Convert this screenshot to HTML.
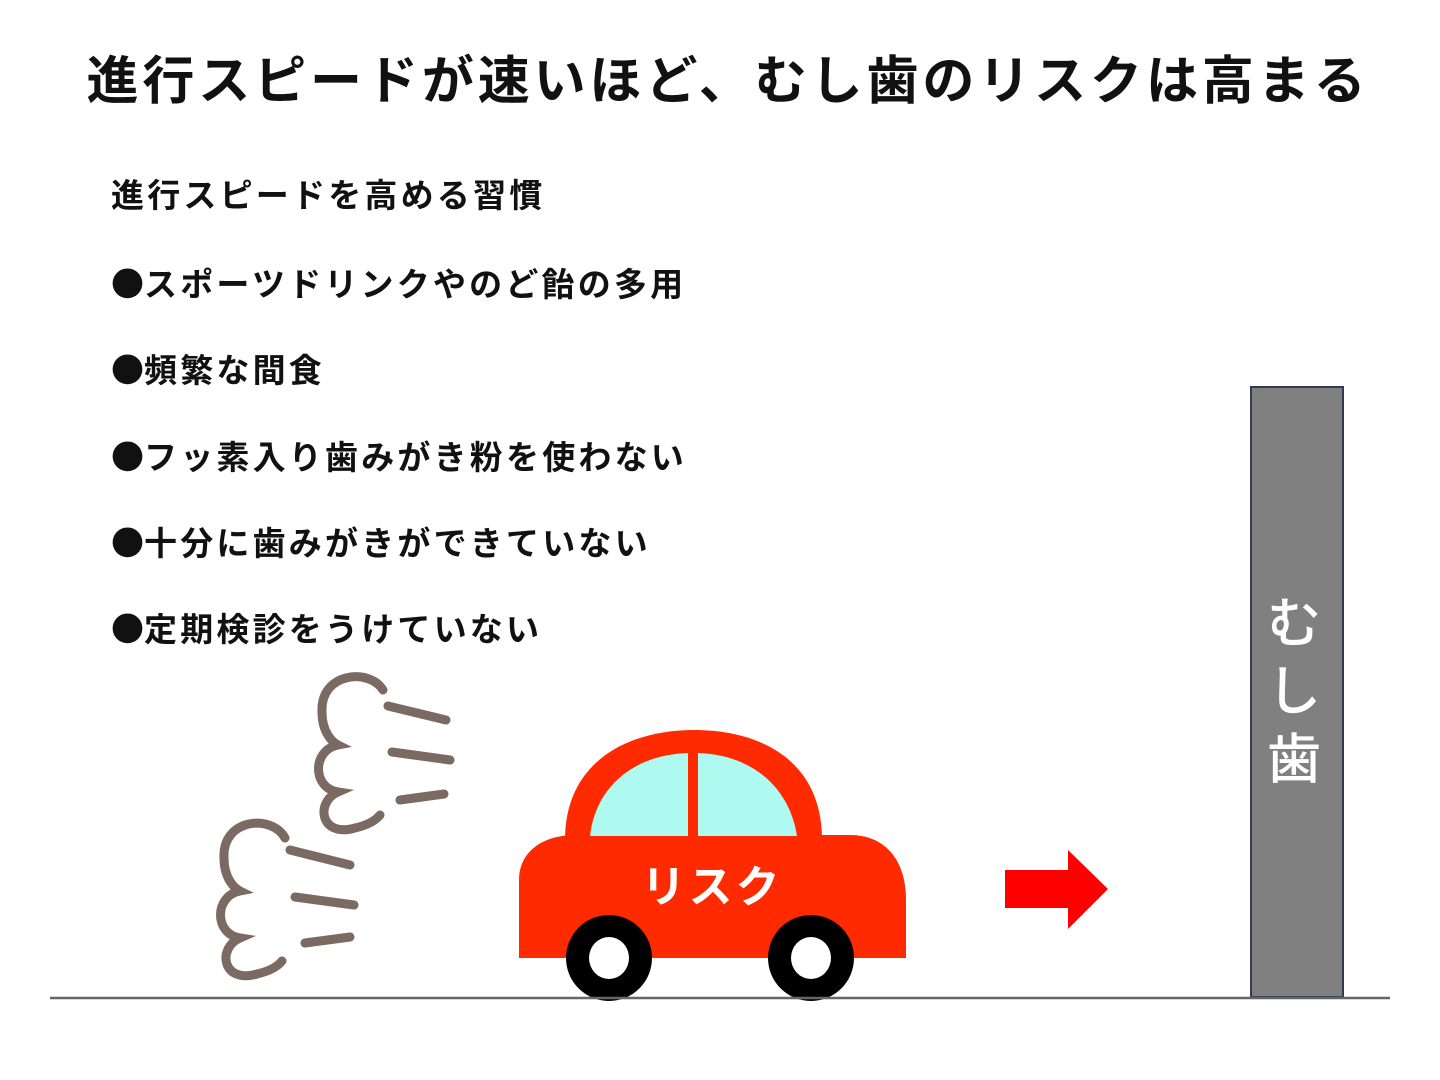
<!DOCTYPE html>
<html><head><meta charset="utf-8"><style>
html,body{margin:0;padding:0;background:#fff}
body{width:1440px;height:1080px;position:relative;overflow:hidden;font-family:"Liberation Sans","Noto Sans CJK JP",sans-serif}
.title{position:absolute;left:8px;width:1440px;top:48px;text-align:center;font-size:52px;font-weight:bold;letter-spacing:3.9px;line-height:68px;color:#111}
.item{position:absolute;left:111px;font-size:33px;font-weight:bold;letter-spacing:3.2px;line-height:40px;color:#111}
.b{font-family:"Noto Sans CJK JP",sans-serif;letter-spacing:0}
</style></head><body>
<div class="title">進行スピードが速いほど、むし歯のリスクは高まる</div>
<div class="item" style="top:176px">進行スピードを高める習慣</div>
<div class="item" style="top:262px"><span class="b">●</span>スポーツドリンクやのど飴の多用</div>
<div class="item" style="top:348px"><span class="b">●</span>頻繁な間食</div>
<div class="item" style="top:435px"><span class="b">●</span>フッ素入り歯みがき粉を使わない</div>
<div class="item" style="top:521px"><span class="b">●</span>十分に歯みがきができていない</div>
<div class="item" style="top:607px"><span class="b">●</span>定期検診をうけていない</div>
<svg width="1440" height="1080" style="position:absolute;left:0;top:0">
<g fill="none" stroke="#7a6a62" stroke-width="9" stroke-linecap="round">
<path d="M383,690 C370,668 320,672 322,712 C322,732 332,742 338,745 C312,750 312,788 338,792 C315,802 320,838 355,828 C368,825 376,820 380,815"/>
<path d="M388,706 L446,720 M392,752 L450,760 M400,800 L444,794"/>
<path d="M285,838 C272,814 222,818 224,858 C224,878 234,888 240,891 C214,896 214,934 240,938 C217,948 222,984 257,974 C270,971 278,966 282,961"/>
<path d="M290,850 L350,865 M295,897 L354,905 M305,943 L350,937"/>
</g>
<path d="M565,840 C565,760 630,730 694,730 C760,730 822,760 822,840 Z" fill="#ff2a00"/>
<path d="M519,958 L519,880 C519,850 545,835 575,835 L850,835 C885,835 906,860 906,900 L906,958 Z" fill="#ff2a00"/>
<path d="M590,836 C595,790 630,755 688,753 L688,836 Z" fill="#aefaf0"/>
<path d="M698,753 C755,755 790,790 797,836 L698,836 Z" fill="#aefaf0"/>
<circle cx="609" cy="958" r="43" fill="#000"/><ellipse cx="609" cy="958" rx="20" ry="21" fill="#fff"/>
<circle cx="811" cy="958" r="43" fill="#000"/><ellipse cx="811" cy="958" rx="20" ry="21" fill="#fff"/>
<text x="712" y="902" text-anchor="middle" font-size="44" font-weight="bold" fill="#fff" font-family="Liberation Sans,Noto Sans CJK JP,sans-serif" letter-spacing="3">リスク</text>
<polygon points="1005,870 1068,870 1068,850 1108,889 1068,929 1068,908 1005,908" fill="#f00"/>
<rect x="1251" y="387" width="92" height="610" fill="#808080" stroke="#2f3b55" stroke-width="2"/>
<g font-size="54" font-weight="500" fill="#fff" text-anchor="middle" font-family="Noto Sans CJK JP,sans-serif">
<text x="1294" y="642">む</text><text x="1294" y="710">し</text><text x="1294" y="778">歯</text>
</g>
<line x1="50" y1="998" x2="1390" y2="998" stroke="#666" stroke-width="2.5"/>
</svg>
</body></html>
